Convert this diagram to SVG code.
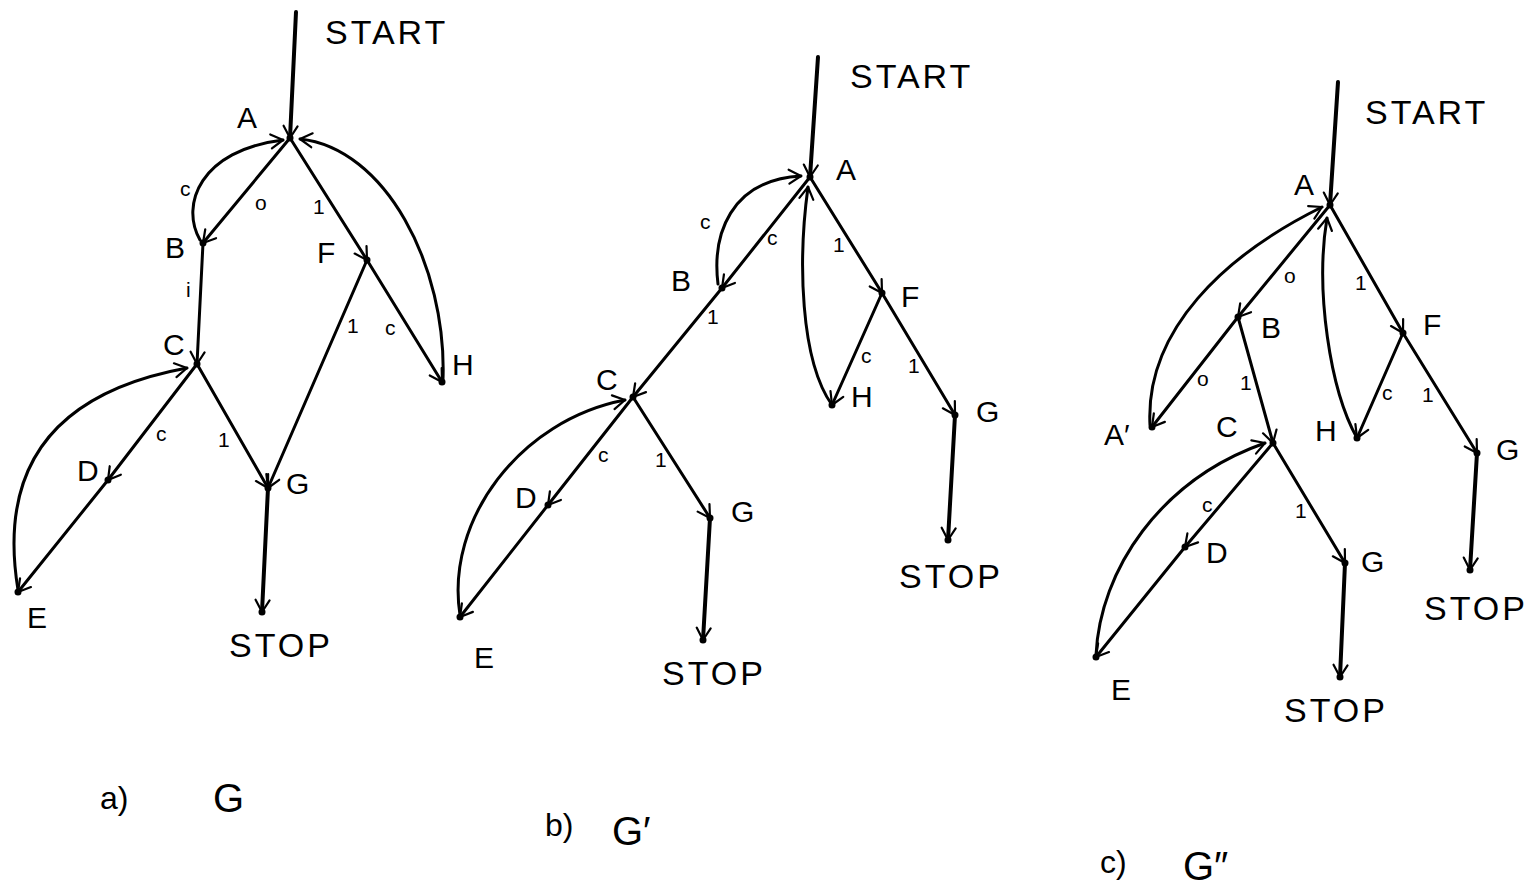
<svg xmlns="http://www.w3.org/2000/svg" width="1538" height="890" viewBox="0 0 1538 890">
<defs>
<marker id="arr" markerUnits="userSpaceOnUse" markerWidth="20" markerHeight="20" viewBox="0 0 20 20" refX="16" refY="10" orient="auto">
<path d="M4,3 L16,10 L4,17" fill="none" stroke="#000" stroke-width="2.2" stroke-linecap="round" stroke-linejoin="round"/>
</marker>
<style>
.e{fill:none;stroke:#000;stroke-width:3;stroke-linecap:round;marker-end:url(#arr)}
.s{fill:none;stroke:#000;stroke-width:4;stroke-linecap:round;marker-end:url(#arr)}
.d{fill:#000}
.n{font-family:"Liberation Sans","DejaVu Sans",sans-serif;font-size:30px;fill:#000}
.t{font-family:"Liberation Sans","DejaVu Sans",sans-serif;font-size:34px;fill:#000;letter-spacing:3px}
.l{font-family:"Liberation Sans","DejaVu Sans",sans-serif;font-size:21px;fill:#000}
.c{font-family:"Liberation Sans","DejaVu Sans",sans-serif;font-size:32px;fill:#000}
.g{font-family:"Liberation Sans","DejaVu Sans",sans-serif;font-size:40px;fill:#000}
</style>
</defs>
<rect width="1538" height="890" fill="#fff"/>

<!-- connectors -->
<g id="connectors">
<!-- a -->
<path class="s" d="M296,12 L290,138"/>
<path class="e" d="M290,138 L203,243"/>
<path class="e" d="M200,240 C180,205 200,150 283,140"/>
<path class="e" d="M290,138 L367,260"/>
<path class="e" d="M367,260 L442,382"/>
<path class="e" d="M443,380 C447,265 385,148 300,139"/>
<path class="e" d="M203,243 L197,364"/>
<path class="e" d="M197,364 L108,480"/>
<path class="e" d="M108,480 L18,592"/>
<path class="e" d="M18,590 C0,480 40,395 187,368"/>
<path class="e" d="M197,364 L268,488"/>
<path class="e" d="M367,260 L268,488"/>
<path class="s" d="M268,488 L262,612"/>
<text class="l" x="255" y="210">o</text>
<text class="l" x="180" y="196">c</text>
<text class="l" x="313" y="214">1</text>
<text class="l" x="385" y="335">c</text>
<text class="l" x="186" y="297">i</text>
<text class="l" x="156" y="441">c</text>
<text class="l" x="218" y="447">1</text>
<text class="l" x="347" y="333">1</text>
<!-- b -->
<path class="s" d="M818,57 L810,177"/>
<path class="e" d="M810,177 L722,288"/>
<path class="e" d="M718,284 C712,235 730,180 801,176"/>
<path class="e" d="M722,288 L633,397"/>
<path class="e" d="M810,177 L882,293"/>
<path class="e" d="M882,293 L832,405"/>
<path class="e" d="M832,405 C800,360 798,260 808,187"/>
<path class="e" d="M882,293 L955,415"/>
<path class="s" d="M955,415 L948,540"/>
<path class="e" d="M633,397 L548,505"/>
<path class="e" d="M548,505 L460,617"/>
<path class="e" d="M460,615 C445,520 520,420 625,400"/>
<path class="e" d="M633,397 L710,518"/>
<path class="s" d="M710,518 L703,640"/>
<text class="l" x="767" y="245">c</text>
<text class="l" x="700" y="229">c</text>
<text class="l" x="707" y="324">1</text>
<text class="l" x="833" y="252">1</text>
<text class="l" x="861" y="363">c</text>
<text class="l" x="908" y="373">1</text>
<text class="l" x="598" y="462">c</text>
<text class="l" x="655" y="467">1</text>
<!-- c -->
<path class="s" d="M1338,82 L1330,205"/>
<path class="e" d="M1330,205 L1238,317"/>
<path class="e" d="M1238,317 L1152,427"/>
<path class="e" d="M1150,425 C1145,330 1225,255 1322,207"/>
<path class="e" d="M1238,317 L1273,443"/>
<path class="e" d="M1330,205 L1403,333"/>
<path class="e" d="M1403,333 L1357,438"/>
<path class="e" d="M1357,438 C1330,390 1315,290 1327,218"/>
<path class="e" d="M1403,333 L1477,453"/>
<path class="s" d="M1477,453 L1470,570"/>
<path class="e" d="M1273,443 L1185,547"/>
<path class="e" d="M1185,547 L1096,657"/>
<path class="e" d="M1096,655 C1100,570 1160,480 1265,443"/>
<path class="e" d="M1273,443 L1345,563"/>
<path class="s" d="M1345,563 L1340,677"/>
<text class="l" x="1284" y="283">o</text>
<text class="l" x="1197" y="386">o</text>
<text class="l" x="1240" y="390">1</text>
<text class="l" x="1355" y="290">1</text>
<text class="l" x="1382" y="400">c</text>
<text class="l" x="1422" y="402">1</text>
<text class="l" x="1202" y="512">c</text>
<text class="l" x="1295" y="518">1</text>
</g>

<!-- diagram a nodes -->
<g id="a-START"><text class="t" x="325" y="44">START</text></g>
<g id="a-A"><circle class="d" cx="290" cy="138" r="3.5"/><text class="n" x="237" y="128">A</text></g>
<g id="a-B"><circle class="d" cx="203" cy="243" r="3.5"/><text class="n" x="165" y="258">B</text></g>
<g id="a-C"><circle class="d" cx="197" cy="364" r="3.5"/><text class="n" x="163" y="355">C</text></g>
<g id="a-D"><circle class="d" cx="108" cy="480" r="3.5"/><text class="n" x="77" y="481">D</text></g>
<g id="a-E"><circle class="d" cx="18" cy="592" r="3.5"/><text class="n" x="27" y="628">E</text></g>
<g id="a-F"><circle class="d" cx="367" cy="260" r="3.5"/><text class="n" x="317" y="263">F</text></g>
<g id="a-H"><circle class="d" cx="442" cy="382" r="3.5"/><text class="n" x="452" y="375">H</text></g>
<g id="a-G"><circle class="d" cx="268" cy="488" r="3.5"/><text class="n" x="286" y="494">G</text></g>
<g id="a-STOP"><circle class="d" cx="262" cy="612" r="3.5"/><text class="t" x="229" y="657">STOP</text></g>

<!-- diagram b nodes -->
<g id="b-START"><text class="t" x="850" y="88">START</text></g>
<g id="b-A"><circle class="d" cx="810" cy="177" r="3.5"/><text class="n" x="836" y="180">A</text></g>
<g id="b-B"><circle class="d" cx="722" cy="288" r="3.5"/><text class="n" x="671" y="291">B</text></g>
<g id="b-C"><circle class="d" cx="633" cy="397" r="3.5"/><text class="n" x="596" y="390">C</text></g>
<g id="b-D"><circle class="d" cx="548" cy="505" r="3.5"/><text class="n" x="515" y="508">D</text></g>
<g id="b-E"><circle class="d" cx="460" cy="617" r="3.5"/><text class="n" x="474" y="668">E</text></g>
<g id="b-F"><circle class="d" cx="882" cy="293" r="3.5"/><text class="n" x="901" y="307">F</text></g>
<g id="b-H"><circle class="d" cx="832" cy="405" r="3.5"/><text class="n" x="851" y="407">H</text></g>
<g id="b-G1"><circle class="d" cx="955" cy="415" r="3.5"/><text class="n" x="976" y="422">G</text></g>
<g id="b-STOP1"><circle class="d" cx="948" cy="540" r="3.5"/><text class="t" x="899" y="588">STOP</text></g>
<g id="b-G2"><circle class="d" cx="710" cy="518" r="3.5"/><text class="n" x="731" y="522">G</text></g>
<g id="b-STOP2"><circle class="d" cx="703" cy="640" r="3.5"/><text class="t" x="662" y="685">STOP</text></g>

<!-- diagram c nodes -->
<g id="c-START"><text class="t" x="1365" y="124">START</text></g>
<g id="c-A"><circle class="d" cx="1330" cy="205" r="3.5"/><text class="n" x="1294" y="195">A</text></g>
<g id="c-B"><circle class="d" cx="1238" cy="317" r="3.5"/><text class="n" x="1261" y="338">B</text></g>
<g id="c-A2"><circle class="d" cx="1152" cy="427" r="3.5"/><text class="n" x="1104" y="445">A′</text></g>
<g id="c-C"><circle class="d" cx="1273" cy="443" r="3.5"/><text class="n" x="1216" y="437">C</text></g>
<g id="c-H"><circle class="d" cx="1357" cy="438" r="3.5"/><text class="n" x="1315" y="441">H</text></g>
<g id="c-F"><circle class="d" cx="1403" cy="333" r="3.5"/><text class="n" x="1423" y="335">F</text></g>
<g id="c-G1"><circle class="d" cx="1477" cy="453" r="3.5"/><text class="n" x="1496" y="460">G</text></g>
<g id="c-STOP1"><circle class="d" cx="1470" cy="570" r="3.5"/><text class="t" x="1424" y="620">STOP</text></g>
<g id="c-D"><circle class="d" cx="1185" cy="547" r="3.5"/><text class="n" x="1206" y="563">D</text></g>
<g id="c-E"><circle class="d" cx="1096" cy="657" r="3.5"/><text class="n" x="1111" y="700">E</text></g>
<g id="c-G2"><circle class="d" cx="1345" cy="563" r="3.5"/><text class="n" x="1361" y="572">G</text></g>
<g id="c-STOP2"><circle class="d" cx="1340" cy="677" r="3.5"/><text class="t" x="1284" y="722">STOP</text></g>

<!-- captions -->
<g id="captions">
<text class="c" x="100" y="809">a)</text>
<text class="g" x="213" y="812">G</text>
<text class="c" x="545" y="836">b)</text>
<text class="g" x="612" y="845">G′</text>
<text class="c" x="1100" y="873">c)</text>
<text class="g" x="1183" y="880">G″</text>
</g>
</svg>
